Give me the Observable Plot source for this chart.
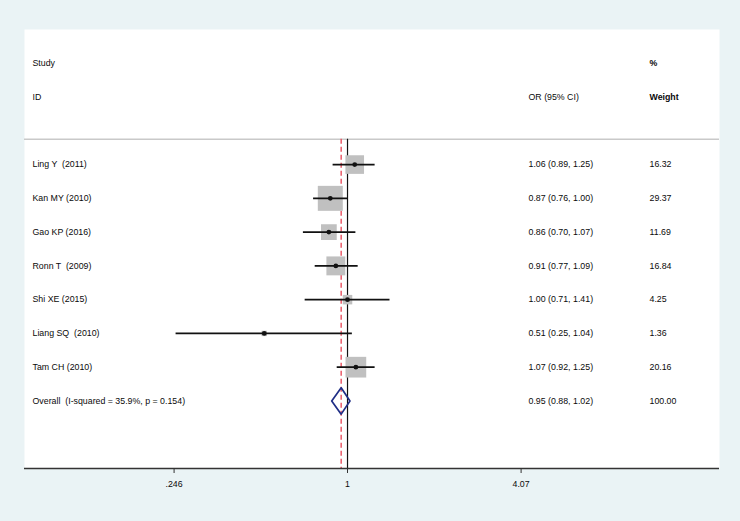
<!DOCTYPE html>
<html>
<head>
<meta charset="utf-8">
<script src="https://cdn.jsdelivr.net/npm/d3@7"></script>
<script src="https://cdn.jsdelivr.net/npm/@observablehq/plot@0.6"></script>
<style>
  html, body { margin: 0; padding: 0; background: #eaf3f5; }
  svg text { white-space: pre; }
</style>
</head>
<body>
<div id="chart"></div>
<script>
// ---- data ----
const studies = ["Ling Y  (2011)", "Kan MY (2010)", "Gao KP (2016)", "Ronn T  (2009)", "Shi XE (2015)", "Liang SQ  (2010)", "Tam CH (2010)"];
const orValues = [1.06, 0.87, 0.86, 0.91, 1.00, 0.51, 1.07];
const lowerCI  = [0.89, 0.76, 0.70, 0.77, 0.71, 0.25, 0.92];
const upperCI  = [1.25, 1.00, 1.07, 1.09, 1.41, 1.04, 1.25];
const weights  = [16.32, 29.37, 11.69, 16.84, 4.25, 1.36, 20.16];
const overallLabel = "Overall  (I-squared = 35.9%, p = 0.154)";
const overallOR = 0.95, overallLower = 0.88, overallUpper = 1.02, overallWeight = 100.00;
const tickValues = [0.246, 1, 4.07];
const tickLabels = [".246", "1", "4.07"];

const fmt = v => v.toFixed(2);
const rows = studies.map((s, i) => ({
  study: s, row: i, or: orValues[i], lo: lowerCI[i], hi: upperCI[i], w: weights[i],
  orText: `${fmt(orValues[i])} (${fmt(lowerCI[i])}, ${fmt(upperCI[i])})`,
  wText: fmt(weights[i])
}));
const overallRow = studies.length;
const overall = {
  study: overallLabel, row: overallRow, or: overallOR, lo: overallLower, hi: overallUpper,
  orText: `${fmt(overallOR)} (${fmt(overallLower)}, ${fmt(overallUpper)})`,
  wText: fmt(overallWeight)
};
const textRows = [...rows, overall];
const half = 0.39;
const diamond = [
  {x: overall.lo, y: overallRow}, {x: overall.or, y: overallRow - half},
  {x: overall.hi, y: overallRow}, {x: overall.or, y: overallRow + half},
  {x: overall.lo, y: overallRow}
];
const tickLabelMap = new Map(tickValues.map((v, i) => [v, tickLabels[i]]));
const headerTop = -3, headerBottom = -2, sepRow = -0.75, axisRow = 9;

const font = "'Liberation Sans', Arial, sans-serif";
const fs = 8.8;
const txtColor = "#0a0a0a";

const chart = Plot.plot({
  width: 740,
  height: 521,
  marginLeft: 24,
  marginRight: 21,
  marginTop: 29,
  marginBottom: 53,
  style: {fontFamily: font, fontSize: fs + "px", background: "#eaf3f5", color: txtColor},
  x: {type: "log", domain: [Math.exp(-2.612), Math.exp(3.008)], axis: null},
  y: {domain: [-4, axisRow], reverse: true, axis: null},
  r: {type: "sqrt", domain: [0, 29.37], range: [0, 14.1]},
  marks: [
    Plot.frame({fill: "white", stroke: null}),
    Plot.ruleY([sepRow], {stroke: "#c9c9c9", strokeWidth: 1.5}),
    Plot.ruleX([1], {y1: sepRow, y2: axisRow, stroke: "#111", strokeWidth: 1.2}),
    Plot.ruleX([overallOR], {y1: sepRow, y2: axisRow, stroke: "#e8505f", strokeWidth: 1.4, strokeDasharray: "5,3"}),
    Plot.dot(rows, {x: "or", y: "row", r: "w", symbol: "square", fill: "#c0c0c0", stroke: null}),
    Plot.ruleY(rows, {x1: "lo", x2: "hi", y: "row", stroke: "#111", strokeWidth: 1.7}),
    Plot.dot(rows, {x: "or", y: "row", r: 2.4, fill: "#111", stroke: null}),
    Plot.line(diamond, {x: "x", y: "y", stroke: "#1f2e86", strokeWidth: 1.7, fill: "none"}),
    // axis
    Plot.ruleY([axisRow], {stroke: "#333", strokeWidth: 1.5}),
    Plot.axisX({ticks: tickValues, tickFormat: d => tickLabelMap.get(d), tickSize: 5, tickPadding: 7, stroke: "#333", fill: txtColor, fontSize: fs, label: null}),
    // text columns
    Plot.text(textRows, {y: "row", text: "study", frameAnchor: "left", dx: 8, textAnchor: "start", fill: txtColor}),
    Plot.text(textRows, {y: "row", text: "orText", frameAnchor: "left", dx: 504, textAnchor: "start", fill: txtColor}),
    Plot.text(textRows, {y: "row", text: "wText", frameAnchor: "left", dx: 625, textAnchor: "start", fill: txtColor}),
    Plot.text(["Study"], {y: headerTop, frameAnchor: "left", dx: 8, textAnchor: "start", fill: txtColor}),
    Plot.text(["ID"], {y: headerBottom, frameAnchor: "left", dx: 8, textAnchor: "start", fill: txtColor}),
    Plot.text(["OR (95% CI)"], {y: headerBottom, frameAnchor: "left", dx: 504, textAnchor: "start", fill: txtColor}),
    Plot.text(["%"], {y: headerTop, frameAnchor: "left", dx: 625, textAnchor: "start", fill: txtColor, fontWeight: "bold"}),
    Plot.text(["Weight"], {y: headerBottom, frameAnchor: "left", dx: 625, textAnchor: "start", fill: txtColor, fontWeight: "bold"})
  ]
});
document.getElementById("chart").append(chart);
</script>
</body>
</html>
